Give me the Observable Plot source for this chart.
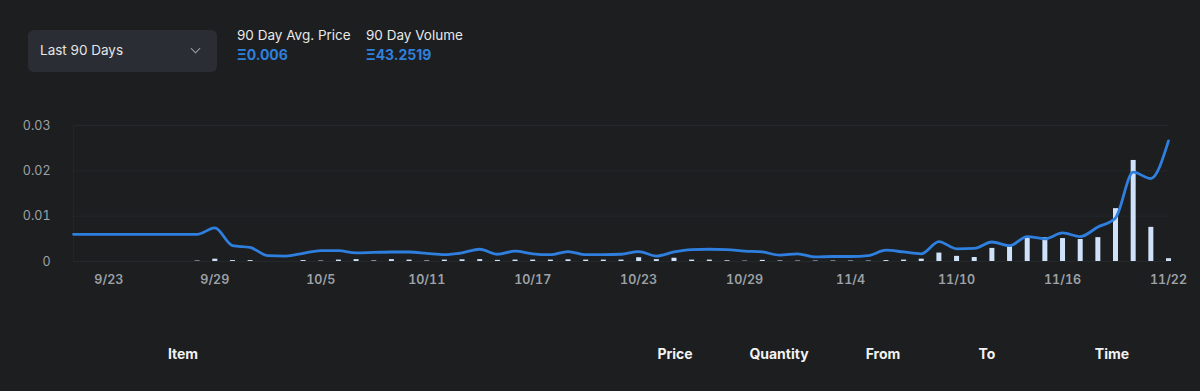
<!DOCTYPE html>
<html>
<head>
<meta charset="utf-8">
<script src="https://cdn.jsdelivr.net/npm/d3@7"></script>
<script src="https://cdn.jsdelivr.net/npm/@observablehq/plot@0.6"></script>
<style>
  html, body { margin: 0; padding: 0; background: #1c1e20; width: 1200px; height: 391px; overflow: hidden; font-family: Inter, "Open Sans", sans-serif; }
  #page { position: relative; width: 1200px; height: 391px; }
  .dropdown { position: absolute; left: 28px; top: 30px; width: 189px; height: 42px; background: #2a2d33; border-radius: 6px; }
  .dropdown span { position: absolute; left: 12px; top: 12px; color: #e6e6e6; font-size: 13.5px; }
  .chev { position: absolute; left: 192px; top: 45px; width: 6px; height: 6px; border-right: 1.5px solid #9a9ea4; border-bottom: 1.5px solid #9a9ea4; transform: rotate(45deg); }
  .stat { position: absolute; top: 26px; }
  .stat .lbl { color: #e8e8e8; font-size: 13.5px; line-height: 18px; }
  .stat .val { color: #2f80dd; font-size: 14px; font-weight: 700; line-height: 22px; }
  #chart { position: absolute; left: 0; top: 105px; }
  .th { position: absolute; top: 345px; color: #f2f2f2; font-weight: 700; font-size: 14px; transform: translateX(-50%); }
</style>
</head>
<body>
<div id="page">
  <div class="dropdown"><span>Last 90 Days</span></div>
  <div class="chev"></div>
  <div class="stat" style="left:237px"><div class="lbl">90 Day Avg. Price</div><div class="val">Ξ0.006</div></div>
  <div class="stat" style="left:366px"><div class="lbl">90 Day Volume</div><div class="val">Ξ43.2519</div></div>
  <div id="chart"></div>
  <div id="thead"></div>
</div>
<script>
const days = ["9/21","9/22","9/23","9/24","9/25","9/26","9/27","9/28","9/29","9/30",
  "10/1","10/2","10/3","10/4","10/5","10/6","10/7","10/8","10/9","10/10",
  "10/11","10/12","10/13","10/14","10/15","10/16","10/17","10/18","10/19","10/20",
  "10/21","10/22","10/23","10/24","10/25","10/26","10/27","10/28","10/29","10/30",
  "10/31","11/1","11/2","11/3","11/4","11/5","11/6","11/7","11/8","11/9",
  "11/10","11/11","11/12","11/13","11/14","11/15","11/16","11/17","11/18","11/19",
  "11/20","11/21","11/22"];

const avgPrice = [0.006,0.006,0.006,0.006,0.006,0.006,0.006,0.006,0.0074,0.0035,
  0.0031,0.0013,0.0012,0.0018,0.0024,0.0024,0.0019,0.0020,0.0021,0.0021,
  0.0018,0.0015,0.0019,0.0027,0.0016,0.0023,0.0017,0.0015,0.0022,0.0015,
  0.0015,0.0016,0.0022,0.0012,0.0021,0.0026,0.0027,0.0026,0.0023,0.0021,
  0.0014,0.0017,0.0010,0.0011,0.0011,0.0013,0.0025,0.0021,0.0017,0.0044,
  0.0028,0.0029,0.0043,0.0035,0.0055,0.0050,0.0063,0.0055,0.0076,0.0096,
  0.0197,0.0183,0.0266];

const volume = [0,0,0,0,0,0,0,0.05,0.25,0.1,
  0.1,0,0,0.1,0.05,0.15,0.2,0.06,0.2,0.15,
  0.06,0.15,0.18,0.2,0.12,0.15,0.15,0.15,0.18,0.15,
  0.15,0.15,0.4,0.2,0.35,0.15,0.15,0.08,0.04,0.12,
  0.06,0.05,0.05,0.05,0.05,0.05,0.1,0.15,0.25,0.9,
  0.55,0.43,1.4,1.7,2.6,2.55,2.45,2.35,2.55,5.65,
  10.8,3.65,0.3];

const xTicks = ["9/23","9/29","10/5","10/11","10/17","10/23","10/29","11/4","11/10","11/16","11/22"];
const yTicks = [0, 0.01, 0.02, 0.03];
const tableHeaders = ["Item","Price","Quantity","From","To","Time"];
const tableHeaderX = [183, 675, 779, 883, 987, 1112];

const parse = s => { const [m, d] = s.split("/").map(Number); return new Date(Date.UTC(2022, m - 1, d)); };
const volToPrice = 0.002064; // volume axis drawn on shared y scale

const data = days.map((d, i) => ({date: parse(d), price: avgPrice[i], vol: volume[i]}));
const bars = data.filter(d => d.vol > 0);

const chart = Plot.plot({
  width: 1200,
  height: 190,
  marginLeft: 73,
  marginRight: 32,
  marginTop: 20,
  marginBottom: 34,
  style: {background: "transparent", color: "#9ea2a7", fontFamily: "Inter, sans-serif"},
  x: {type: "utc", domain: [parse(days[0]), parse(days[days.length - 1])], label: null},
  y: {domain: [0, 0.03], label: null},
  marks: [
    Plot.gridY(yTicks, {stroke: "#24282b", strokeOpacity: 1}),
    Plot.ruleX([parse(days[0])], {stroke: "#222629"}),
    Plot.ruleX(bars, {x: "date", y1: 0, y2: d => d.vol * volToPrice, stroke: "#cfe2fa", strokeWidth: 5}),
    Plot.line(data, {x: "date", y: "price", stroke: "#2f7fdf", strokeWidth: 2.8, curve: "monotone-x"}),
    Plot.axisX({tickSize: 0, tickPadding: 14, fontSize: 12.5, fontWeight: 600, fill: "#9ea2a7", ticks: xTicks.map(parse), tickFormat: d3.utcFormat("%-m/%-d"), label: null}),
    Plot.axisY({tickSize: 0, tickPadding: 23, fontSize: 12.5, fill: "#9ea2a7", ticks: yTicks, tickFormat: d => d === 0 ? "0" : d3.format(".2f")(d), label: null})
  ]
});
document.getElementById("chart").appendChild(chart);

const thead = document.getElementById("thead");
tableHeaders.forEach((t, i) => {
  const el = document.createElement("div");
  el.className = "th";
  el.style.left = tableHeaderX[i] + "px";
  el.textContent = t;
  thead.appendChild(el);
});
</script>
</body>
</html>
